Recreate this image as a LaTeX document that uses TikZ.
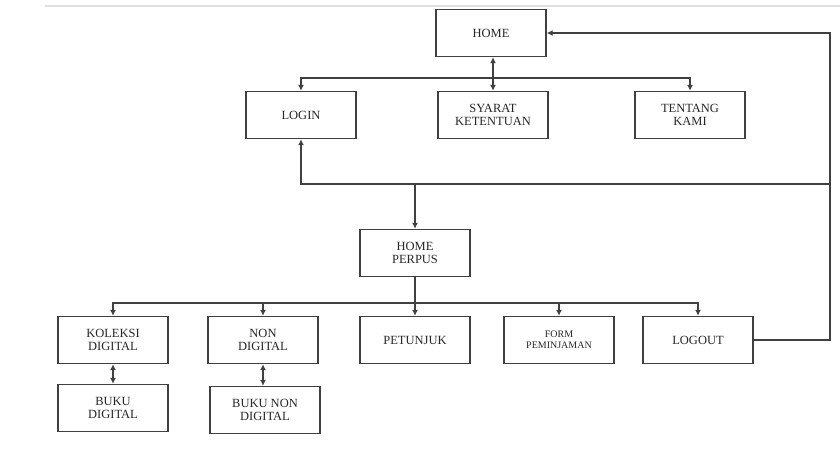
\documentclass[tikz,border=0pt]{standalone}
\usepackage{fontspec}
\setmainfont{Liberation Serif}
\usetikzlibrary{arrows.meta}

\definecolor{garis}{rgb}{0.25,0.25,0.25}

\begin{document}
\begin{tikzpicture}[x=1pt,y=-1pt,
    kotak/.style={draw=garis, line width=1.4pt, minimum width=110pt, minimum height=47pt,
        align=center, font=\fontsize{12.5}{13.5}\selectfont, text=black!85, inner sep=0pt},
    panah/.style={draw=garis, line width=1.2pt, -{Latex[length=6pt,width=6pt]}},
    duapanah/.style={draw=garis, line width=1.2pt, {Latex[length=6pt,width=6pt]}-{Latex[length=6pt,width=6pt]}}]
            \useasboundingbox (0,0) rectangle (840,453);
            \draw[gray!25, line width=2pt] (45,6) -- (840,6);

            % level atas
            \node[kotak] (home) at (491,33) {HOME};
            \node[kotak] (login) at (301,115) {LOGIN};
            \node[kotak] (syarat) at (493,115) {SYARAT\\KETENTUAN};
            \node[kotak] (tentang) at (690,115) {TENTANG\\KAMI};

            % level tengah
            \node[kotak] (perpus) at (415,253) {HOME\\PERPUS};

            % level bawah
            \node[kotak] (koleksi) at (113,340) {KOLEKSI\\DIGITAL};
            \node[kotak] (nondig) at (263,340) {NON\\DIGITAL};
            \node[kotak] (petunjuk) at (415,340) {PETUNJUK};
            \node[kotak, font=\fontsize{10}{11}\selectfont] (form) at (559,340) {FORM\\PEMINJAMAN};
            \node[kotak] (logout) at (698,340) {LOGOUT};
            \node[kotak] (bukudig) at (113,408) {BUKU\\DIGITAL};
            \node[kotak] (bukunon) at (265,410) {BUKU NON\\DIGITAL};

            \coordinate (cabang1) at (493,78);
            \coordinate (cabang2) at (415,184);
            \coordinate (cabang3) at (415,303);
            \coordinate (kanan) at (830,184);

            % sambungan
            \draw[duapanah] (home.south -| syarat) -- (syarat.north);
            \draw[panah] (cabang1) -| (login.north);
            \draw[panah] (cabang1) -| (tentang.north);
            \draw[panah] (logout.east) -| (kanan) |- (home.east);
            \draw[panah] (kanan) -| (login.south);
            \draw[panah] (cabang2) -- (perpus.north);
            \draw[panah] (perpus.south) -- (petunjuk.north);
            \draw[panah] (cabang3) -| (koleksi.north);
            \draw[panah] (cabang3) -| (nondig.north);
            \draw[panah] (cabang3) -| (form.north);
            \draw[panah] (cabang3) -| (logout.north);
            \draw[duapanah] (koleksi.south) -- (bukudig.north);
            \draw[duapanah] (nondig.south) -- (nondig.south |- bukunon.north);
        \end{tikzpicture}
\end{document}
